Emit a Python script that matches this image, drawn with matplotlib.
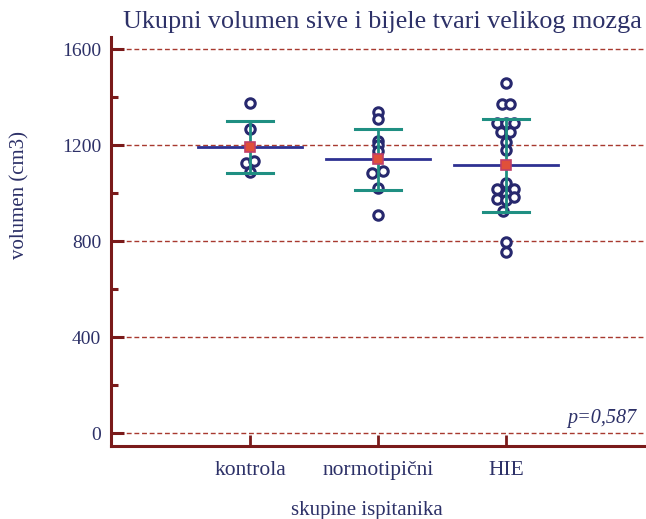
import matplotlib
matplotlib.use("Agg")
import matplotlib.pyplot as plt
import numpy as np

# ---- data ----
categories = ["kontrola", "normotipični", "HIE"]
kontrola = [1374, 1265, 1124, 1135, 1089]
kontrola_jit = [0.0, 0.0, -0.03, 0.035, 0.0]
normo = [1339, 1307, 1218, 1200, 1176, 1092, 1082, 1020, 908]
normo_jit = [0.0, 0.0, 0.0, 0.0, 0.0, 0.04, -0.045, 0.0, 0.0]
hie = [1457, 1370, 1370, 1290, 1290, 1290, 1256, 1256, 1214, 1179,
       1040, 1018, 1015, 995, 975, 970, 985, 925, 797, 755]
hie_jit = [0.0, -0.03, 0.035, -0.07, 0.0, 0.065, -0.04, 0.03, 0.0, 0.0,
           0.0, -0.07, 0.06, 0.0, -0.07, 0.0, 0.06, -0.02, 0.0, 0.0]
means = [1193, 1140, 1115]
sds = [108, 126, 193]
yticks = [0, 400, 800, 1200, 1600]
yminor = [200, 600, 1000, 1400]
p_text = "p=0,587"

# ---- style ----
NAVY = "#27286e"
SPINE = "#7a1a1a"
GRID = "#a8392f"
TEAL = "#1f8f82"
MEANC = "#2e3192"
SQ = "#e0503a"
SQE = "#c0406a"
TXT = "#2d3168"
serif = ["Liberation Serif", "DejaVu Serif"]

W, H = 646, 519
fig = plt.figure(figsize=(W / 100, H / 100), dpi=100)
ax = fig.add_axes([111 / W, 73 / H, (646 - 111) / W, (446 - 37) / H])

xpos = np.arange(1, len(categories) + 1)
ax.set_xlim(1 - 139 / 128, 1 + 396 / 128)
ax.set_ylim(-54, 1650)

for yv in yticks:
    ax.axhline(yv, color=GRID, lw=1.0, ls=(0, (3.5, 2)), zorder=1)

groups = [kontrola, normo, hie]
jits = [kontrola_jit, normo_jit, hie_jit]
for i, (vals, jit) in enumerate(zip(groups, jits)):
    xs = xpos[i] + np.array(jit)
    ax.plot(xs, vals, ls="none", marker="o", ms=6.8, mfc="white",
            mec=NAVY, mew=2.2, zorder=3)

for i in range(len(categories)):
    x = xpos[i]
    m, s = means[i], sds[i]
    ax.plot([x, x], [m - s, m + s], color=TEAL, lw=2.0, zorder=4)
    ax.plot([x - 0.176, x + 0.176], [m + s, m + s], color=TEAL, lw=2.2, zorder=4)
    ax.plot([x - 0.176, x + 0.176], [m - s, m - s], color=TEAL, lw=2.2, zorder=4)
    ax.plot([x - 0.41, x + 0.41], [m, m], color=MEANC, lw=2.0, zorder=5)
    ax.plot([x], [m], marker="s", ms=7.5, mfc=SQ, mec=SQE, mew=1.2, zorder=6)

for side in ["top", "right"]:
    ax.spines[side].set_visible(False)
for side in ["left", "bottom"]:
    ax.spines[side].set_color(SPINE)
    ax.spines[side].set_linewidth(2.2)

ax.set_yticks(yticks)
ax.set_yticks(yminor, minor=True)
ax.tick_params(axis="y", which="major", direction="in", length=9, width=2.2,
               color=SPINE, pad=7, labelsize=14, labelcolor=TXT)
ax.tick_params(axis="y", which="minor", direction="in", length=5, width=2.2,
               color=SPINE)
ax.set_xticks(xpos)
ax.set_xticklabels(categories)
ax.tick_params(axis="x", which="major", direction="in", length=8, width=2.0,
               color=SPINE, pad=11, labelsize=15.5, labelcolor=TXT)
for lab in ax.get_xticklabels() + ax.get_yticklabels():
    lab.set_family(serif)

ax.patch.set_alpha(0)

fig.text(382 / W, 1 - 22 / H, "Ukupni volumen sive i bijele tvari velikog mozga",
         ha="center", va="center", fontsize=18.8, color=TXT, family=serif)
fig.text(20 / W, 1 - 195 / H, "volumen (cm3)", rotation=90, ha="center",
         va="center", fontsize=15, color=TXT, family=serif)
fig.text(367 / W, 1 - 510 / H, "skupine ispitanika", ha="center", va="center",
         fontsize=15, color=TXT, family=serif)
fig.text(636 / W, 1 - 418 / H, p_text, ha="right", va="center",
         fontsize=14.5, color=TXT, family=serif, style="italic")

fig.savefig("out.png", dpi=100, facecolor="white")
